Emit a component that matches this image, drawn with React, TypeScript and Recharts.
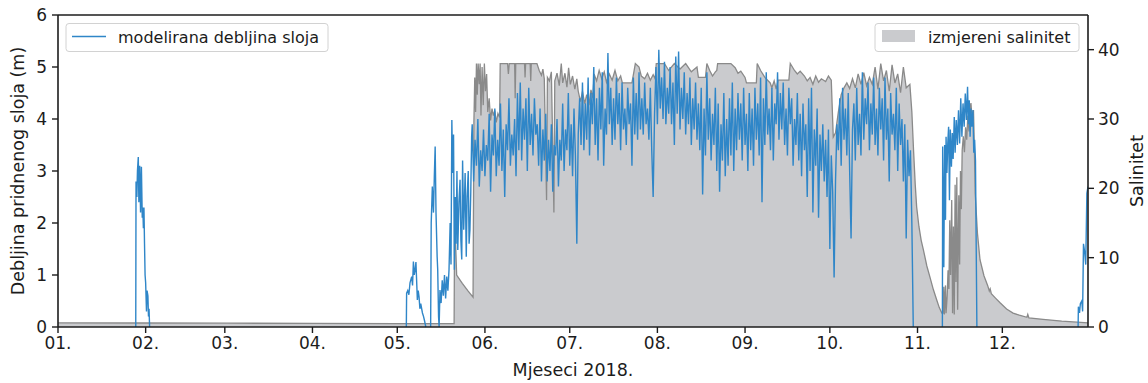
import React from "react";
import { ComposedChart, Area, Line, XAxis, YAxis, ReferenceLine } from "recharts";

// ---- axes ----
const monthTicks = [0, 31, 59, 90, 120, 151, 181, 212, 243, 273, 304, 334];
const monthLabels = ["01.", "02.", "03.", "04.", "05.", "06.", "07.", "08.", "09.", "10.", "11.", "12."];
const depthTicks = [0, 1, 2, 3, 4, 5, 6];
const salinityTicks = [0, 10, 20, 30, 40];
const dayDomainEnd = 364.3;

// ---- measured salinity: [day of year, salinity] ----
const salinityPoints: [number, number][] = [
  [0, 0.6], [30, 0.58], [60, 0.55], [90, 0.52], [120, 0.5], [140.1, 0.5],
  [140.3, 17.3], [140.6, 12.5], [141.0, 7.5], [143, 6.3], [145, 5.2], [146.8, 4.3],
  [147.1, 29.5], [147.4, 36], [147.7, 31], [148.0, 38], [148.3, 33.5], [148.6, 38], [149.0, 35], [149.3, 38],
  [149.6, 30.5], [150.0, 37.5], [150.4, 32], [150.8, 38], [151.2, 34], [151.6, 36.5], [152.0, 31], [152.5, 33],
  [153.0, 29.8], [153.5, 31.5], [154.0, 30.5], [154.5, 31.2], [155.0, 29.5], [155.6, 30.8], [156.2, 30.2],
  [156.4, 38], [159, 38], [159.3, 36.5], [159.6, 38], [161.5, 38], [161.7, 33], [161.9, 38], [165, 38],
  [165.2, 36], [165.4, 38], [167, 38], [167.2, 35.5], [167.4, 38], [169.4, 38],
  [170.2, 37], [171, 36.3], [171.5, 37.2], [172.0, 35.8], [172.8, 18.3], [173.1, 36], [173.8, 35.5],
  [174.5, 36.8], [175.4, 16.5], [175.7, 35.5], [176.5, 36.6], [177.3, 34.8], [178, 38], [178.5, 35.2],
  [179.3, 36.6], [180, 34.6], [180.6, 37.4], [181.2, 35], [182, 36.2], [182.8, 34.3], [183.5, 35.8], [184, 34],
  [184.8, 32.5], [185.5, 34], [186.3, 32.2], [187, 33.5], [187.8, 32], [188.5, 34.2], [189.2, 33],
  [189.6, 36.5], [190.5, 35.5], [191.4, 37], [192.3, 35.8], [193.2, 36.8], [194, 35.3], [195, 36.5],
  [196, 35.6], [197, 37], [198, 35.5], [199, 36.2], [199.6, 35.2], [200.5, 35.2], [203, 35.2],
  [204.2, 38], [205.5, 37.5], [206.3, 36.2], [207.5, 35.8], [208.5, 36.6], [209.5, 35.6], [210.5, 36.4],
  [211.2, 35.8], [211.6, 38], [214.5, 38], [216, 37], [218, 38], [220, 37.2], [222, 38], [224, 36.8],
  [226, 37.5], [226.5, 36], [229, 36], [229.5, 38], [230.5, 37], [231.5, 36.2], [232.5, 36.8], [233, 37],
  [233.3, 38], [238, 38], [239.5, 37.4], [240.5, 36.6], [241.5, 36.9], [243, 36], [243.5, 35.2], [247, 35.2],
  [247.3, 38], [248.5, 37], [250, 36], [251.9, 35.2], [252.5, 34.5], [253.3, 35.5], [254, 34.3], [254.7, 35.6],
  [258.5, 35.6], [259, 38], [260.5, 37], [261.5, 36.5], [262.5, 36.9], [264, 36.2], [265, 35.5], [266, 36],
  [267, 35], [268, 36.2], [269, 35.3], [270, 35.8], [271.5, 35.4], [272.5, 36.2], [273.5, 35.6], [274.2, 27.4],
  [275, 28], [276, 31], [277, 33.5], [278, 34.5], [279, 35.2], [280, 34.4], [281, 35.8], [282, 34.5],
  [283, 36.5], [284, 35], [285, 36.7], [286, 34.8], [287, 36], [288, 35], [289, 37.5], [290, 34.3], [291, 38],
  [292, 35.5], [293, 37], [294, 34], [295, 37.8], [296, 35.2], [297, 36.5], [298, 33.8], [299, 37.5],
  [300, 34.5], [301.3, 35], [302, 31], [302.6, 25.5], [303.2, 20.5], [303.7, 17.3], [304.5, 14.5],
  [305.3, 12.5], [306.1, 11.1], [307.3, 8.8], [308.4, 7.2], [309.6, 5.4], [310.8, 3.9], [311.7, 2.8], [312.6, 2.0],
  [313.0, 2.0], [313.3, 5.8], [313.5, 1.8], [313.9, 6.0], [314.1, 2.0], [314.5, 4.5], [314.8, 8.2], [315.1, 5.5],
  [315.4, 15.4], [315.7, 7.5], [316.1, 18.3], [316.4, 2.0], [316.7, 14.5], [317.0, 1.8], [317.3, 20.5],
  [317.6, 6.5], [317.9, 21.6], [318.2, 2.5], [318.6, 19], [318.9, 9], [319.2, 22.5], [319.5, 17], [319.8, 25.5],
  [320.2, 27.5], [320.6, 25.2], [321.0, 28.8], [321.4, 27], [321.8, 30.5], [322.2, 28.2], [322.6, 31.5],
  [322.9, 32.3], [323.3, 30], [323.8, 31.3], [324.1, 26], [324.4, 19.3], [325.2, 13.5], [326.1, 9.7],
  [327.5, 7.4], [328.8, 6.0], [329.4, 5.2], [329.7, 5.5], [330.1, 4.8], [331.5, 4.2], [333.2, 3.5], [335.5, 2.6],
  [337.8, 2.0], [340, 1.7], [342.7, 1.4], [343.0, 1.8], [343.4, 1.3], [348.4, 1.1], [355, 0.85], [360.4, 0.7],
  [364.3, 0.6],
];

// ---- modelled bottom-layer thickness: [day of year, metres] ----
const depthFeb: [number, number][] = [
  [27.5, 0], [27.6, 2.8], [27.9, 2.5], [28.1, 3.0], [28.4, 3.27], [28.6, 2.4], [28.9, 3.1], [29.2, 2.2],
  [29.5, 3.08], [29.8, 2.1], [30.0, 2.3], [30.2, 1.9], [30.4, 2.3], [30.6, 1.6], [30.8, 1.0], [31.0, 0.85],
  [31.3, 0.3], [31.5, 0.7], [31.8, 0.6], [32.0, 0.2], [32.2, 0.35], [32.4, 0],
];
const depthMay: [number, number][] = [
  [123.2, 0], [123.3, 0.65], [123.7, 0.7], [124.1, 0.62], [124.5, 0.85], [125.1, 0.97], [125.4, 0.8],
  [125.7, 1.26], [126.0, 1.0], [126.3, 1.1], [126.6, 1.25], [127.1, 0.52], [127.4, 0.7], [127.7, 0.58],
  [128.0, 0.35], [128.3, 0.45], [128.9, 0.27], [129.3, 0.2], [129.6, 0.13], [130.1, 0],
];
const depthSpring: [number, number][] = [
  [131.8, 0], [132.0, 2.0], [132.4, 2.7], [132.8, 2.2], [133.1, 2.89], [133.4, 3.47], [133.7, 2.19],
  [134.1, 1.35], [134.3, 1.1], [134.6, 0.2], [134.8, 0], [135.1, 0.71], [135.5, 0.46], [135.9, 0.9],
  [136.3, 0.6], [136.7, 1.0], [137.1, 0.55], [137.5, 0.97], [137.9, 0.7], [138.3, 1.1], [138.7, 2.0],
  [139.0, 1.2], [139.3, 3.98], [139.6, 2.96], [139.9, 3.7], [140.2, 1.1], [140.5, 2.5], [140.8, 1.6],
  [141.1, 3.0], [141.4, 1.48], [141.8, 2.4], [142.2, 2.83], [142.5, 1.67], [142.8, 1.3], [143.1, 3.2],
  [143.5, 1.87], [144.0, 2.96], [144.4, 1.35], [144.7, 2.5], [145.1, 3.0], [145.4, 1.6], [145.7, 1.87],
  [146.0, 2.6], [146.3, 3.66],
];
// half-daily samples from day 146.5 onward
const summerStartDay = 146.5;
const summerStepDays = 0.5;
const depthSummer: number[] = [
  3.9, 2.8, 3.6, 3.1, 4.0, 2.7, 3.4, 3.0, 3.8, 2.9,
  3.5, 3.2, 4.1, 2.6, 3.7, 3.3, 4.2, 2.9, 3.6, 3.1,
  4.3, 3.0, 3.8, 2.5, 3.9, 3.4, 4.4, 3.1, 3.7, 3.3,
  4.0, 2.9, 4.5, 3.4, 4.7, 3.2, 4.2, 3.6, 4.4, 3.0,
  4.6, 3.5, 4.1, 3.3, 4.4, 3.7, 3.9, 3.1, 4.2, 2.8,
  3.8, 3.2, 4.1, 2.8, 3.6, 3.0, 3.9, 2.6, 3.5, 3.3,
  4.0, 2.7, 3.6, 3.2, 4.3, 3.0, 3.8, 3.4, 4.5, 3.1,
  3.9, 2.9, 4.2, 3.3, 1.6, 3.7, 4.4, 3.5, 4.7, 3.4,
  4.3, 3.6, 4.8, 3.3, 4.5, 3.9, 5.0, 3.5, 4.4, 3.2,
  4.6, 3.8, 4.9, 3.1, 4.2, 3.7, 5.27, 3.9, 4.6, 3.5,
  4.4, 3.6, 4.8, 3.9, 4.5, 3.4, 4.7, 3.8, 4.2, 3.5,
  4.6, 3.9, 4.3, 3.1, 4.8, 3.7, 4.5, 3.6, 4.9, 3.8,
  4.4, 3.7, 4.7, 3.9, 4.2, 3.6, 4.6, 3.4, 2.5, 4.1,
  5.0, 3.9, 5.33, 4.2, 4.8, 4.0, 5.1, 3.9, 4.6, 4.1,
  5.0, 3.9, 4.7, 3.5, 5.2, 4.1, 5.3, 3.8, 4.6, 4.0,
  4.9, 3.7, 4.5, 3.9, 4.8, 3.5, 4.4, 3.8, 4.7, 3.6,
  4.3, 3.4, 4.6, 2.55, 4.2, 3.3, 4.9, 3.6, 4.4, 3.2,
  4.1, 3.5, 4.6, 3.0, 4.3, 2.6, 3.9, 3.2, 4.5, 2.9,
  4.0, 3.1, 4.4, 3.3, 4.7, 3.0, 4.2, 3.4, 4.5, 3.6,
  4.3, 3.2, 4.6, 3.5, 4.1, 3.0, 4.5, 3.4, 4.2, 3.1,
  4.6, 3.6, 4.3, 3.3, 4.8, 2.4, 4.4, 3.5, 4.9, 3.7,
  4.2, 3.4, 4.6, 3.2, 4.3, 3.9, 4.9, 3.6, 4.5, 3.8,
  4.7, 3.5, 4.2, 3.3, 4.6, 3.9, 4.4, 3.1, 4.0, 3.5,
  4.5, 3.2, 4.1, 2.9, 4.3, 3.4, 3.9, 2.5, 4.4, 3.0,
  4.6, 2.2, 3.8, 3.1, 4.2, 2.1, 3.7, 3.0, 3.9, 2.8,
  3.6, 2.5, 3.8, 1.5, 3.3, 2.6, 0.95, 2.8, 3.9, 3.4,
  4.4, 3.1, 4.6, 3.6, 4.2, 3.3, 4.5, 3.0, 1.7, 3.8,
  4.3, 3.2, 4.6, 3.5, 4.1, 3.3, 4.9, 3.6, 4.4, 3.9,
  4.7, 3.4, 4.3, 3.7, 4.8, 3.5, 4.2, 3.3, 4.6, 3.8,
  4.4, 3.2, 4.8, 3.6, 4.2, 2.8, 4.5, 3.7, 4.1, 3.4,
  4.6, 3.0, 4.3, 3.5, 4.0, 2.8, 3.9, 1.7, 3.6, 2.9,
  3.4, 2.0, 0,
];
const depthNov: [number, number][] = [
  [312.8, 0], [312.9, 3.47], [313.1, 2.5], [313.3, 1.15], [313.6, 3.5], [313.9, 2.06], [314.1, 3.66],
  [314.4, 2.96], [314.7, 3.53], [315.0, 3.85], [315.3, 2.44], [315.6, 3.8], [316.0, 3.08], [316.3, 3.73],
  [316.6, 3.23], [317.0, 4.04], [317.3, 3.35], [317.7, 3.98], [318.1, 3.5], [318.5, 4.17], [318.9, 3.53],
  [319.3, 4.4], [319.7, 3.66], [320.1, 4.3], [320.5, 3.85], [320.9, 4.49], [321.3, 3.98], [321.7, 4.62],
  [322.0, 3.9], [322.3, 4.36], [322.6, 3.66], [322.9, 4.2], [323.2, 3.85], [323.6, 4.17], [323.9, 3.35],
  [324.2, 3.6], [324.5, 3.2], [325.0, 0],
];
const depthDec: [number, number][] = [
  [360.8, 0], [360.9, 0.39], [361.3, 0.27], [361.6, 0.45], [362.1, 0.5], [362.4, 0.3], [362.7, 1.6],
  [363.1, 1.45], [363.5, 1.2], [363.9, 2.57], [364.3, 2.7],
];

// ---- tables built from the arrays ----
const salinityRows = salinityPoints.map(([day, sal]) => ({ day, sal }));
const toRows = (pts: [number, number][]) => pts.map(([day, depth]) => ({ day, depth: depth as number | null }));
const gap = (day: number) => ({ day, depth: null as number | null });
const summerRows = depthSummer.map((v, i) => ({ day: summerStartDay + i * summerStepDays, depth: v as number | null }));
const depthRows = [
  ...toRows(depthFeb), gap(33),
  ...toRows(depthMay), gap(131),
  ...toRows(depthSpring), ...summerRows, gap(310),
  ...toRows(depthNov), gap(340),
  ...toRows(depthDec),
];

const FONT = "DejaVu Sans, Verdana, sans-serif";
const INK = "#1c1c1c";
const BLUE = "#2f86c8";

export default function App() {
  return (
    <div style={{ position: "absolute", left: 0, top: 0, width: 1148, height: 383, background: "#fff", fontFamily: FONT }}>
      <ComposedChart
        width={1148}
        height={383}
        data={salinityRows}
        margin={{ top: 15, right: 0, bottom: 0, left: 0 }}
      >
        <XAxis
          dataKey="day"
          type="number"
          domain={[0, dayDomainEnd]}
          allowDataOverflow
          ticks={monthTicks}
          tickFormatter={(v: number) => monthLabels[monthTicks.indexOf(v)] ?? ""}
          height={56}
          interval={0}
          tickSize={6}
          tickMargin={4}
          axisLine={{ stroke: INK, strokeWidth: 1.6 }}
          tickLine={{ stroke: INK, strokeWidth: 1.4 }}
          tick={{ fontSize: 17, fill: INK, fontFamily: FONT }}
        />
        <YAxis
          yAxisId="left"
          type="number"
          domain={[0, 6]}
          ticks={depthTicks}
          width={58}
          interval={0}
          tickSize={6}
          tickMargin={5}
          axisLine={{ stroke: INK, strokeWidth: 1.6 }}
          tickLine={{ stroke: INK, strokeWidth: 1.4 }}
          tick={{ fontSize: 17, fill: INK, fontFamily: FONT }}
        />
        <YAxis
          yAxisId="right"
          orientation="right"
          type="number"
          domain={[0, 45]}
          ticks={salinityTicks}
          width={60}
          interval={0}
          tickSize={6}
          tickMargin={4}
          axisLine={{ stroke: INK, strokeWidth: 1.6 }}
          tickLine={{ stroke: INK, strokeWidth: 1.4 }}
          tick={{ fontSize: 17, fill: INK, fontFamily: FONT }}
        />
        <Area
          yAxisId="right"
          dataKey="sal"
          type="linear"
          stroke="#8a8a8a"
          strokeWidth={1.3}
          fill="#cacbce"
          fillOpacity={1}
          baseValue={0}
          isAnimationActive={false}
          dot={false}
          activeDot={false}
        />
        <Line
          yAxisId="left"
          data={depthRows}
          dataKey="depth"
          type="linear"
          stroke={BLUE}
          strokeWidth={1.4}
          dot={false}
          activeDot={false}
          connectNulls={false}
          isAnimationActive={false}
        />
        <ReferenceLine yAxisId="left" y={6} stroke={INK} strokeWidth={1.6} ifOverflow="extendDomain" />
      </ComposedChart>

      <svg
        width={1148}
        height={383}
        style={{ position: "absolute", left: 0, top: 0, pointerEvents: "none" }}
      >
        {/* left legend */}
        <rect x={66} y={23.5} width={262} height={28} rx={3} fill="rgba(255,255,255,0.85)" stroke="#d2d2d2" />
        <line x1={72} y1={36.5} x2={106} y2={36.5} stroke={BLUE} strokeWidth={1.5} />
        <text x={118} y={43} fontSize={16} fill={INK} fontFamily={FONT}>modelirana debljina sloja</text>
        {/* right legend */}
        <rect x={875} y={23.5} width={204} height={28} rx={3} fill="rgba(255,255,255,0.85)" stroke="#d2d2d2" />
        <rect x={882} y={30} width={33} height={12} fill="#cacbce" />
        <text x={928} y={43} fontSize={16} fill={INK} fontFamily={FONT}>izmjereni salinitet</text>
        {/* axis titles */}
        <text x={573} y={376} fontSize={17.5} fill={INK} fontFamily={FONT} textAnchor="middle">Mjeseci 2018.</text>
        <text
          x={24}
          y={171}
          fontSize={17.5}
          fill={INK}
          fontFamily={FONT}
          textAnchor="middle"
          transform="rotate(-90 24 171)"
        >
          Debljina pridnenog sloja (m)
        </text>
        <text
          x={1143}
          y={171}
          fontSize={17.5}
          fill={INK}
          fontFamily={FONT}
          textAnchor="middle"
          transform="rotate(-90 1143 171)"
        >
          Salinitet
        </text>
      </svg>
    </div>
  );
}
